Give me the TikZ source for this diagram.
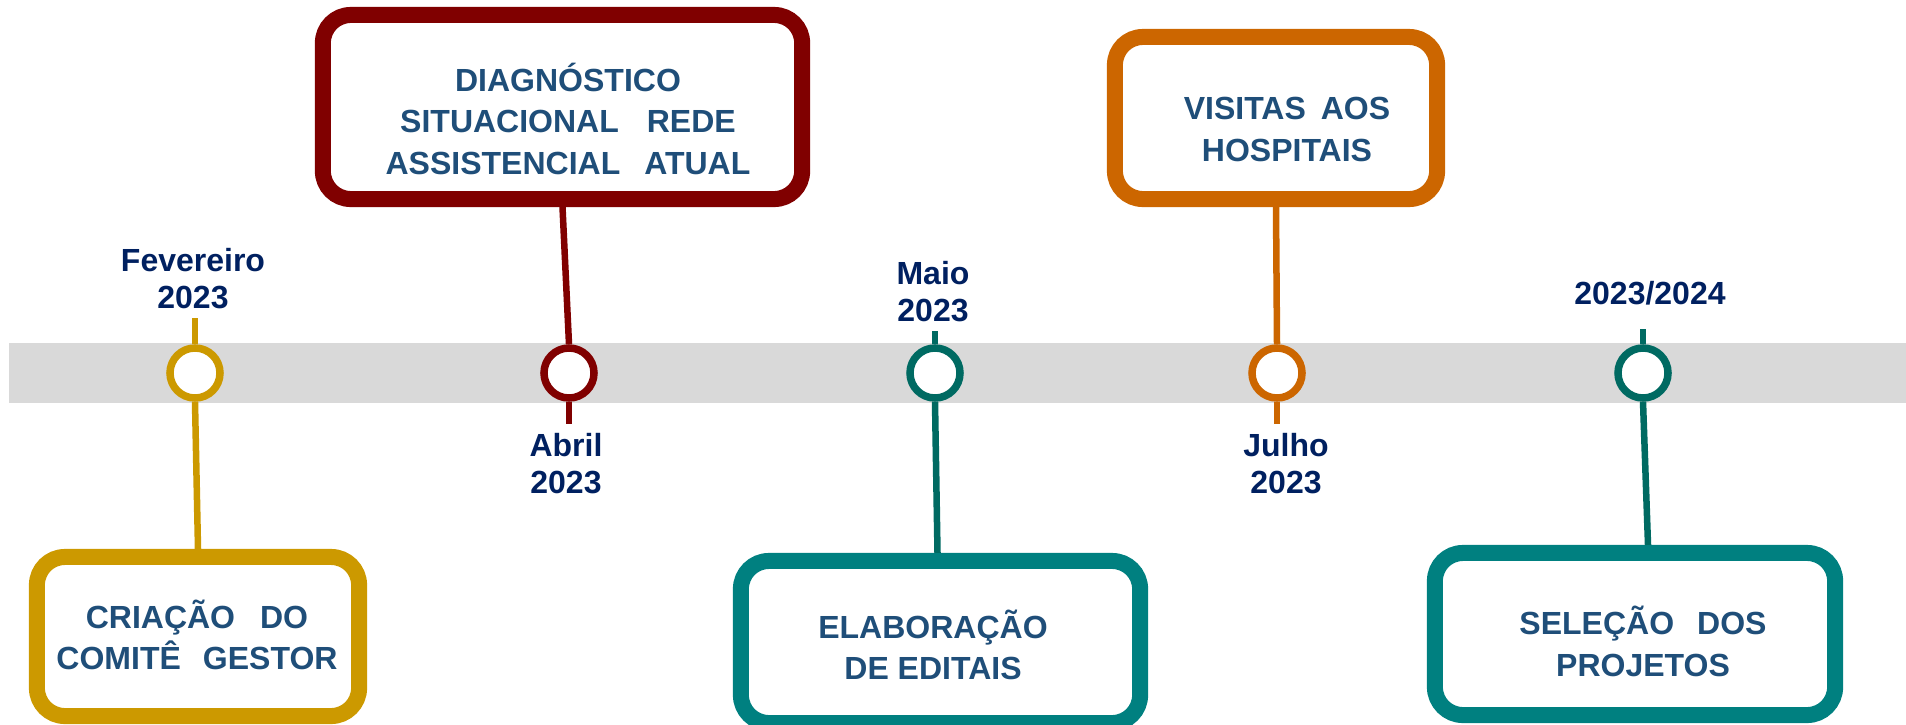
\documentclass[tikz,border=0pt]{standalone}
\usepackage{fontspec}
\setmainfont{Liberation Sans}
\usetikzlibrary{calc,positioning}

\begin{document}
\begin{tikzpicture}[x=0.01cm,y=-0.01cm,
    panel/.style={draw=#1,line width=0.16cm,rounded corners=0.28cm,fill=white,inner sep=0pt},
    paneltext/.style={text=r31g78b121,font=\fontsize{9.1pt}{11.7pt}\selectfont\bfseries,
        align=center,text height=0.64cm,text depth=0pt,inner sep=0pt},
    dot/.style={circle,draw=#1,line width=0.075cm,fill=white,minimum size=0.5cm,inner sep=0pt},
    datetext/.style={text=r0g32b96,font=\fontsize{9.1pt}{10.5pt}\selectfont\bfseries,
        align=center,text height=0.60cm,text depth=0pt,inner xsep=0pt,inner ysep=0.09cm},
    link/.style={draw=#1,line width=0.065cm}]
                    \useasboundingbox (0,0) rectangle (1906,724);
                    \clip (0,0) rectangle (1906,724);

                    % Colours
                    \definecolor{r31g78b121}{rgb}{0.121569,0.305882,0.474510}%
                    \definecolor{r0g32b96}{rgb}{0.000000,0.125490,0.376471}%
                    \definecolor{r217g217b217}{rgb}{0.850980,0.850980,0.850980}%
                    \definecolor{r204g153b0}{rgb}{0.800000,0.600000,0.000000}%
                    \definecolor{r128g0b0}{rgb}{0.501961,0.000000,0.000000}%
                    \definecolor{r0g128b128}{rgb}{0.000000,0.501961,0.501961}%
                    \definecolor{r0g106b98}{rgb}{0.000000,0.415686,0.384314}%
                    \definecolor{r204g102b0}{rgb}{0.800000,0.400000,0.000000}%

                    % Drawing the time band
                    \fill [r217g217b217] (9,343) rectangle (1906,403);%

                    % Marking Fevereiro 2023
                    \node [dot=r204g153b0] (c1) at (195,373) {};%
                    \node [panel=r204g153b0,minimum width=3.22cm,minimum height=1.59cm] (b1) at (198,636.5) {};%
                    \node [paneltext] (t1) at (197,637.5) {CRIAÇÃO\hspace{0.25cm}DO\\COMITÊ\hspace{0.22cm}GESTOR};%
                    \node [datetext] (d1) at (193,278.5) {Fevereiro\\2023};%
                    \draw [link=r204g153b0] (c1.north) -- (c1.north |- d1.south);%
                    \draw [link=r204g153b0] (c1.south) -- (b1.north);%

                    % Marking Abril 2023
                    \node [dot=r128g0b0] (c2) at (569,373) {};%
                    \node [panel=r128g0b0,minimum width=4.79cm,minimum height=1.84cm] (b2) at (562.5,107) {};%
                    \node [paneltext,text height=1.05cm] (t2) at (568,121.5) {DIAGNÓSTICO\\SITUACIONAL\hspace{0.28cm}REDE\\ASSISTENCIAL\hspace{0.24cm}ATUAL};%
                    \node [datetext] (d2) at (566,463.5) {Abril\\2023};%
                    \draw [link=r128g0b0] (c2.south) -- (c2.south |- d2.north);%
                    \draw [link=r128g0b0] (c2.north) -- (b2.south);%

                    % Marking Maio 2023
                    \node [dot=r0g106b98] (c3) at (935,373) {};%
                    \node [panel=r0g128b128,minimum width=3.99cm,minimum height=1.62cm] (b3) at (940.5,642) {};%
                    \node [paneltext] (t3) at (933,647.5) {ELABORAÇÃO\\DE EDITAIS};%
                    \node [datetext] (d3) at (933,291.5) {Maio\\2023};%
                    \draw [link=r0g106b98] (c3.north) -- (c3.north |- d3.south);%
                    \draw [link=r0g106b98] (c3.south) -- ([xshift=-0.03cm]b3.north);%

                    % Marking Julho 2023
                    \node [dot=r204g102b0] (c4) at (1277,373) {};%
                    \node [panel=r204g102b0,minimum width=3.22cm,minimum height=1.62cm] (b4) at (1276,118) {};%
                    \node [paneltext] (t4) at (1287,129) {VISITAS\hspace{0.15cm}AOS\\HOSPITAIS};%
                    \node [datetext] (d4) at (1286,463.5) {Julho\\2023};%
                    \draw [link=r204g102b0] (c4.south) -- (c4.south |- d4.north);%
                    \draw [link=r204g102b0] (c4.north) -- (b4.south);%

                    % Marking 2023/2024
                    \node [dot=r0g106b98] (c5) at (1643,373) {};%
                    \node [panel=r0g128b128,minimum width=4.00cm,minimum height=1.62cm] (b5) at (1635,634) {};%
                    \node [paneltext] (t5) at (1643,644) {SELEÇÃO\hspace{0.23cm}DOS\\PROJETOS};%
                    \node [datetext,text height=0.23cm,inner ysep=0.235cm] (d5) at (1650,293) {2023/2024};%
                    \draw [link=r0g106b98] (c5.north) -- (c5.north |- d5.south);%
                    \draw [link=r0g106b98] (c5.south) -- ([xshift=0.05cm]c5.south |- b5.north);%
\end{tikzpicture}
\end{document}
